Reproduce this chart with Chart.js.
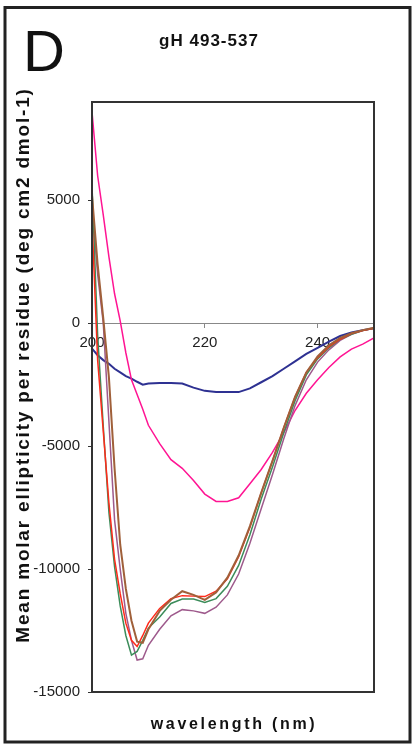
<!DOCTYPE html>
<html>
<head>
<meta charset="utf-8">
<script src="https://cdn.jsdelivr.net/npm/chart.js@4/dist/chart.umd.min.js"></script>
<style>
  html, body { margin: 0; padding: 0; background: #fff; }
  canvas { display: block; }
</style>
</head>
<body>
<canvas id="chart" width="414" height="746"></canvas>
<script>
// CD spectra, wavelength in nm
const wavelengths = [200, 201, 202, 203, 204, 205, 206, 207, 208, 209, 210, 212, 214, 216, 218, 220,
    222, 224, 226, 228, 230, 232, 234, 236, 238, 240, 242, 244, 246, 248, 250];

const pinkTrace = [8600, 6000, 4400, 2700, 1200, 100, -1200, -2300, -2900, -3500, -4150, -4900, -5550, -5900, -6400, -6950,
    -7250, -7250, -7100, -6530, -5950, -5250, -4450, -3550, -2850, -2300, -1800, -1370, -1050, -850, -600];
const blueTrace = [-1030, -1300, -1500, -1650, -1850, -2000, -2150, -2250, -2380, -2500, -2450, -2430, -2430, -2450, -2620, -2750,
    -2800, -2800, -2800, -2650, -2400, -2150, -1850, -1550, -1250, -1000, -750, -520, -380, -280, -200];
const redTrace = [4200, -1500, -4400, -7300, -9600, -11000, -12200, -12900, -13150, -12700, -12200, -11600, -11200, -11080, -11100, -11120,
    -10900, -10400, -9500, -8300, -6900, -5600, -4250, -3000, -2000, -1400, -950, -650, -420, -300, -200];
const greenTrace = [5600, -500, -4200, -7700, -9900, -11500, -12700, -13500, -13350, -12900, -12400, -11950, -11400, -11220, -11220, -11360,
    -11200, -10700, -9850, -8600, -7150, -5850, -4450, -3150, -2100, -1450, -1000, -650, -450, -300, -200];
const mauveTrace = [4800, 2000, 0, -4000, -8000, -10000, -11800, -12900, -13700, -13650, -13100, -12450, -11900, -11650, -11700, -11800,
    -11550, -11050, -10200, -8950, -7550, -6150, -4700, -3350, -2300, -1580, -1080, -700, -450, -300, -200];
const brownTrace = [5200, 2400, 200, -2200, -5900, -9000, -10800, -12100, -12950, -13000, -12450, -11700, -11250, -10900, -11050, -11250,
    -10950, -10350, -9450, -8250, -6900, -5600, -4250, -3000, -2000, -1350, -900, -600, -400, -280, -180];

const xTickValues = [200, 220, 240];
const yTickValues = [-15000, -10000, -5000, 0, 5000];
const xRange = [200, 250];
const yRange = [-15000, 9000];

const FONT = "'Liberation Sans', Arial, Helvetica, sans-serif";
Chart.defaults.font.family = FONT;

function toPoints(values) {
    return wavelengths.map(function (w, i) {
        return { x: w, y: values[i] };
    });
}

function trace(label, values, colour, width) {
    return {
        label: label,
        data: toPoints(values),
        borderColor: colour,
        backgroundColor: colour,
        borderWidth: width,
        pointRadius: 0,
        tension: 0,
        fill: false
    };
}

function fixedTicks(values) {
    return function (scale) {
        scale.ticks = values.map(function (v) {
            return { value: v };
        });
    };
}

function plainLabel(value) {
    return String(value);
}

// page frame, plot box and the free text labels
const framePlugin = {
    id: 'frame',
    beforeDraw(chart) {
        const ctx = chart.ctx;
        ctx.save();
        ctx.fillStyle = '#fff';
        ctx.fillRect(0, 0, chart.width, chart.height);
        ctx.restore();
    },
    afterDraw(chart) {
        const ctx = chart.ctx;
        const a = chart.chartArea;
        ctx.save();

        ctx.strokeStyle = '#333';
        ctx.lineWidth = 2;
        ctx.strokeRect(a.left, a.top, a.right - a.left, a.bottom - a.top);

        ctx.strokeStyle = '#222';
        ctx.lineWidth = 3;
        ctx.strokeRect(5, 7.5, 405, 734.5);

        ctx.fillStyle = '#111';
        ctx.textBaseline = 'alphabetic';
        ctx.textAlign = 'left';
        ctx.font = '58px ' + FONT;
        ctx.fillText('D', 23, 71);

        ctx.textAlign = 'center';
        ctx.font = 'bold 17px ' + FONT;
        ctx.letterSpacing = '1px';
        ctx.fillText('gH 493-537', 209, 46);

        ctx.font = 'bold 16px ' + FONT;
        ctx.letterSpacing = '2.7px';
        ctx.fillText('wavelength (nm)', 234, 729);

        ctx.translate(24, 365);
        ctx.rotate(-Math.PI / 2);
        ctx.textBaseline = 'middle';
        ctx.font = 'bold 19px ' + FONT;
        ctx.letterSpacing = '1.8px';
        ctx.fillText('Mean molar ellipticity per residue (deg cm2 dmol-1)', 0, 0);

        ctx.restore();
    }
};

new Chart(document.getElementById('chart'), {
    type: 'line',
    data: {
        datasets: [
            trace('brown', brownTrace, '#a0603a', 2),
            trace('red', redTrace, '#ff2a1a', 1.5),
            trace('green', greenTrace, '#3c8c5a', 1.5),
            trace('mauve', mauveTrace, '#9e5a8c', 1.5),
            trace('pink', pinkTrace, '#ff1493', 1.5),
            trace('blue', blueTrace, '#2e3192', 2)
        ]
    },
    options: {
        responsive: false,
        devicePixelRatio: 1,
        animation: false,
        events: [],
        layout: {
            padding: { top: 102, right: 40, bottom: 54, left: 0 }
        },
        scales: {
            x: {
                type: 'linear',
                position: { y: 0 },
                min: xRange[0],
                max: xRange[1],
                afterBuildTicks: fixedTicks(xTickValues),
                ticks: {
                    callback: plainLabel,
                    color: '#222',
                    padding: 7,
                    font: { size: 15 }
                },
                grid: {
                    drawOnChartArea: false,
                    drawTicks: true,
                    tickLength: 4,
                    color: '#888'
                },
                border: { color: '#888', width: 1 }
            },
            y: {
                type: 'linear',
                min: yRange[0],
                max: yRange[1],
                afterBuildTicks: fixedTicks(yTickValues),
                afterFit: function (scale) {
                    scale.width = 92;
                },
                ticks: {
                    callback: plainLabel,
                    color: '#222',
                    padding: 8,
                    font: { size: 15 }
                },
                grid: {
                    drawOnChartArea: false,
                    drawTicks: true,
                    tickLength: 4,
                    color: '#333'
                },
                border: { color: '#333', width: 2 }
            }
        },
        plugins: {
            legend: { display: false },
            tooltip: { enabled: false },
            title: { display: false }
        }
    },
    plugins: [framePlugin]
});
</script>
</body>
</html>
